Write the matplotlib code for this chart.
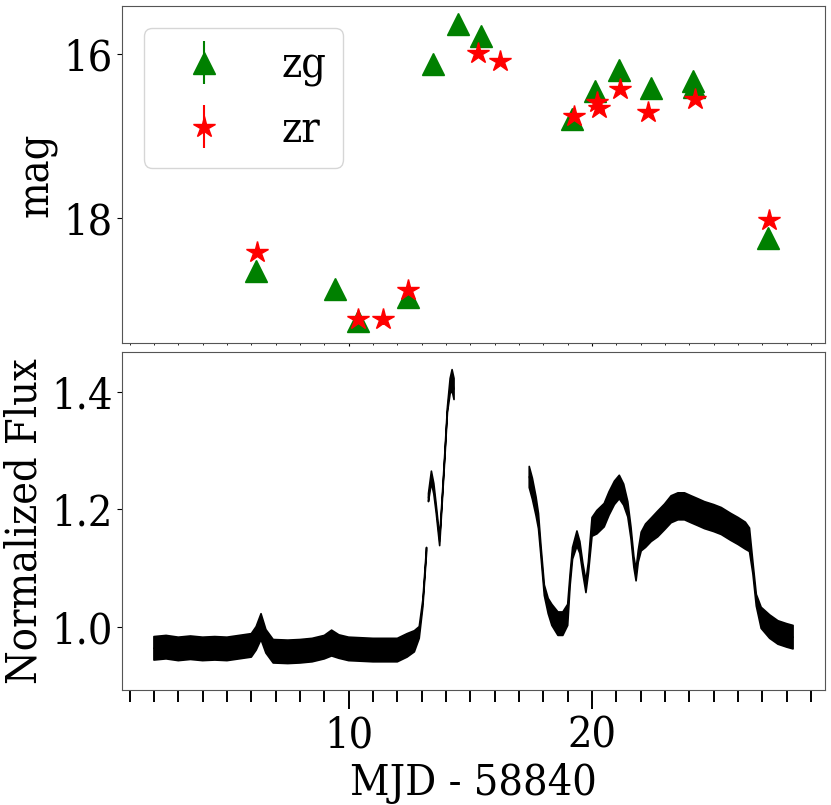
import numpy as np
import matplotlib.pyplot as plt
from matplotlib.ticker import MultipleLocator

plt.rcParams['font.family'] = 'DejaVu Serif'
plt.rcParams['font.stretch'] = 'condensed'
plt.rcParams['font.size'] = 31

nan = np.nan

# ZTF photometry (days since MJD 58840)
zg_day = [6.2, 9.44, 10.4, 12.44, 13.46, 14.49, 15.43, 19.16, 20.12, 21.12, 22.44, 24.15, 24.2, 27.23]
zg_mag = [18.65, 18.87, 19.26, 18.96, 16.12, 15.63, 15.78, 16.79, 16.45, 16.2, 16.41, 16.33, 16.4, 18.24]
zg_err = [0.06, 0.07, 0.08, 0.07, 0.03, 0.03, 0.03, 0.04, 0.04, 0.03, 0.04, 0.04, 0.04, 0.06]

zr_day = [6.24, 10.4, 11.43, 12.44, 15.32, 16.2, 19.26, 20.22, 20.3, 21.14, 22.3, 24.24, 27.28]
zr_mag = [18.42, 19.23, 19.23, 18.88, 15.99, 16.08, 16.76, 16.58, 16.66, 16.43, 16.71, 16.55, 18.02]
zr_err = [0.05, 0.08, 0.08, 0.07, 0.03, 0.03, 0.04, 0.04, 0.04, 0.03, 0.04, 0.04, 0.05]

lc_day = [2.0, 2.5, 3.0, 3.5, 4.0, 4.5, 5.0, 5.5, 6.0, 6.2, 6.4, 6.6, 6.9, 7.5, 8.0, 8.5,
          9.0, 9.3, 9.6, 10.0, 10.5, 11.0, 11.5, 12.0, 12.4, 12.7, 12.9, 13.05, 13.2, 13.24,
          13.28, 13.4, 13.5, 13.6, 13.74, 13.85, 13.95, 14.06, 14.17, 14.25, 14.33, 15.9,
          17.42, 17.55, 17.7, 17.8, 17.9, 18.04, 18.2, 18.35, 18.6, 18.8, 19.0, 19.1, 19.2,
          19.38, 19.5, 19.62, 19.75, 19.85, 20.0, 20.2, 20.5, 20.7, 20.92, 21.12, 21.3, 21.47,
          21.6, 21.72, 21.81, 21.9, 22.02, 22.2, 22.43, 22.7, 22.98, 23.25, 23.53, 23.8, 24.07,
          24.35, 24.62, 25.0, 25.31, 25.7, 26.0, 26.3, 26.47, 26.61, 26.75, 26.95, 27.3, 27.64,
          28.0, 28.26]
lc_flux = [0.963, 0.965, 0.962, 0.964, 0.962, 0.963, 0.962, 0.965, 0.968, 0.980, 1.000, 0.975, 0.958, 0.957, 0.958, 0.960,
           0.965, 0.972, 0.966, 0.962, 0.961, 0.960, 0.960, 0.960, 0.968, 0.975, 0.990, 1.040, 1.130, nan,
           1.220, 1.255, 1.235, 1.200, 1.145, 1.220, 1.290, 1.370, 1.410, 1.420, 1.405, nan,
           1.255, 1.235, 1.205, 1.180, 1.130, 1.062, 1.035, 1.020, 1.005, 1.005, 1.020, 1.080, 1.125,
           1.150, 1.135, 1.100, 1.068, 1.100, 1.170, 1.178, 1.190, 1.210, 1.228, 1.238, 1.225, 1.200,
           1.160, 1.110, 1.088, 1.120, 1.145, 1.155, 1.165, 1.175, 1.187, 1.200, 1.205, 1.205, 1.200,
           1.195, 1.190, 1.185, 1.180, 1.170, 1.163, 1.155, 1.148, 1.100, 1.045, 1.015, 1.000, 0.990,
           0.985, 0.982]
lc_scatter = [0.020, 0.020, 0.020, 0.020, 0.020, 0.020, 0.020, 0.020, 0.020, 0.020, 0.022, 0.020, 0.020, 0.020, 0.020, 0.020,
              0.020, 0.022, 0.020, 0.020, 0.020, 0.020, 0.020, 0.020, 0.020, 0.018, 0.010, 0.006, 0.005, nan,
              0.007, 0.010, 0.009, 0.007, 0.007, 0.005, 0.005, 0.005, 0.013, 0.018, 0.018, nan,
              0.018, 0.018, 0.016, 0.013, 0.009, 0.009, 0.013, 0.018, 0.020, 0.020, 0.018, 0.010, 0.010,
              0.013, 0.010, 0.009, 0.010, 0.010, 0.016, 0.020, 0.020, 0.020, 0.020, 0.020, 0.018, 0.013,
              0.010, 0.009, 0.010, 0.010, 0.016, 0.020, 0.020, 0.022, 0.022, 0.023, 0.023, 0.023, 0.023,
              0.023, 0.023, 0.023, 0.023, 0.023, 0.023, 0.023, 0.020, 0.010, 0.010, 0.018, 0.020, 0.020,
              0.020, 0.020]

lc_day = np.array(lc_day)
lc_flux = np.array(lc_flux)
lc_scatter = np.array(lc_scatter)

fig = plt.figure(figsize=(8.31, 8.05), dpi=100)
ax1 = fig.add_axes([0.1468, 0.5739, 0.846, 0.4186])
ax2 = fig.add_axes([0.1468, 0.1429, 0.846, 0.4198], sharex=ax1)

ax1.errorbar(zg_day, zg_mag, yerr=zg_err, fmt='^', color='green', ms=16, label='zg')
ax1.errorbar(zr_day, zr_mag, yerr=zr_err, fmt='*', color='red', ms=16, label='zr')
ax1.invert_yaxis()
ax1.yaxis.set_major_locator(MultipleLocator(2))
ax1.set_ylabel('mag')
ax1.legend(loc='upper left')
plt.setp(ax1.get_xticklabels(), visible=False)

ax2.fill_between(lc_day, lc_flux - lc_scatter, lc_flux + lc_scatter, color='k', lw=1.2)
ax2.plot(lc_day, lc_flux, 'k-', lw=1)
ax2.set_ylim(0.892, 1.468)
ax2.yaxis.set_major_locator(MultipleLocator(0.2))
ax2.xaxis.set_major_locator(MultipleLocator(10))
ax2.xaxis.set_minor_locator(MultipleLocator(1))
ax2.set_ylabel('Normalized Flux')
ax2.set_xlabel('MJD - 58840')

ax1.tick_params(axis='x', which='major', length=2.5)
ax1.tick_params(axis='x', which='minor', length=1.5)
ax2.tick_params(axis='x', which='major', length=14, width=1.4)
ax2.tick_params(axis='x', which='minor', length=8.5, width=1.4)

for ax in (ax1, ax2):
    for s in ax.spines.values():
        s.set_color('#555555')

fig.savefig('out.png', dpi=100)
